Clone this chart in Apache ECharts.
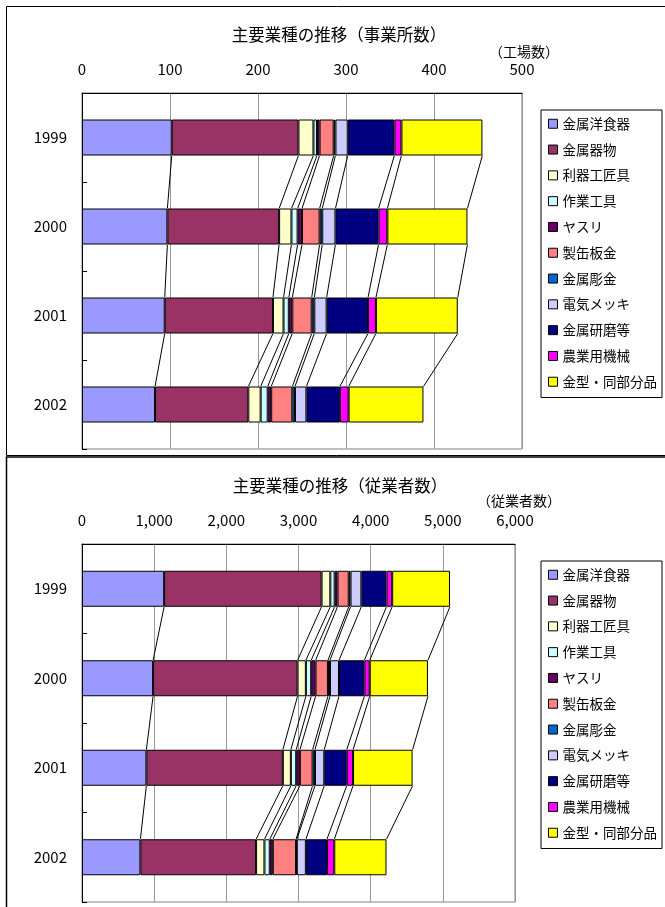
<!DOCTYPE html>
<html>
<head>
<meta charset="utf-8">
<script src="https://cdn.jsdelivr.net/npm/echarts/dist/echarts.min.js"></script>
<style>
html,body{margin:0;padding:0;background:#fff;}
#chart{width:665px;height:907px;}
</style>
</head>
<body>
<div id="chart"></div>
<script>
// ---- data ----
const categories = ['1999', '2000', '2001', '2002'];
const seriesNames = ['金属洋食器', '金属器物', '利器工匠具', '作業工具', 'ヤスリ', '製缶板金', '金属彫金', '電気メッキ', '金属研磨等', '農業用機械', '金型・同部分品'];
const seriesColors = ['#9999FF', '#993366', '#FFFFCC', '#CCFFFF', '#660066', '#FF8080', '#0066CC', '#CCCCFF', '#000080', '#FF00FF', '#FFFF00'];

// establishments (事業所数)
const estYoshokki = [102, 97, 94, 83];
const estKibutsu = [144, 127, 123, 106];
const estRiki = [17, 14, 12, 14];
const estSagyo = [4, 7, 6, 8];
const estYasuri = [3, 5, 4, 4];
const estSeikan = [16, 20, 22, 24];
const estChokin = [2, 3, 3, 3];
const estMekki = [14, 15, 14, 13];
const estKenma = [53, 49, 47, 38];
const estNogyo = [8, 10, 9, 10];
const estKanagata = [92, 91, 93, 85];

// employees (従業者数)
const empYoshokki = [1138, 985, 892, 809];
const empKibutsu = [2182, 2002, 1891, 1603];
const empRiki = [121, 115, 111, 116];
const empSagyo = [60, 74, 74, 74];
const empYasuri = [40, 61, 51, 42];
const empSeikan = [155, 171, 176, 322];
const empChokin = [25, 28, 33, 11];
const empMekki = [150, 125, 129, 125];
const empKenma = [348, 352, 311, 292];
const empNogyo = [79, 74, 88, 102];
const empKanagata = [801, 807, 825, 723];

const estTicks = [0, 500, 100];
const empTicks = [0, 6000, 1000];

const estSeries = [estYoshokki, estKibutsu, estRiki, estSagyo, estYasuri, estSeikan, estChokin, estMekki, estKenma, estNogyo, estKanagata];
const empSeries = [empYoshokki, empKibutsu, empRiki, empSagyo, empYasuri, empSeikan, empChokin, empMekki, empKenma, empNogyo, empKanagata];

// ---- build ----
const FONT = "'Noto Sans CJK JP', 'Noto Sans', sans-serif";
const BAR_W = 36;

function seriesLineData(list) {
  const out = [];
  const cum = categories.map(() => 0);
  const cums = list.map(arr => arr.map((v, i) => (cum[i] += v)));
  cums.forEach(c => {
    for (let i = 0; i < categories.length - 1; i++) out.push([c[i], c[i + 1], i]);
  });
  return out;
}

function lineRender(params, api) {
  const i = api.value(2);
  const p1 = api.coord([api.value(0), i]);
  const p2 = api.coord([api.value(1), i + 1]);
  return {
    type: 'line',
    shape: { x1: p1[0], y1: p1[1] + BAR_W / 2, x2: p2[0], y2: p2[1] - BAR_W / 2 },
    style: { stroke: '#000', lineWidth: 1 }
  };
}

function makeBars(list, idx, stack) {
  return list.map((arr, k) => ({
    type: 'bar', name: seriesNames[k], stack: stack,
    xAxisIndex: idx, yAxisIndex: idx, data: arr, barWidth: BAR_W,
    itemStyle: { color: seriesColors[k], borderColor: '#000', borderWidth: 1 },
    emphasis: { disabled: true }
  }));
}

function xAxisDef(idx, ticks) {
  return {
    gridIndex: idx, type: 'value', position: 'top',
    min: ticks[0], max: ticks[1], interval: ticks[2],
    axisLine: { show: true, lineStyle: { color: '#000', width: 1 } },
    axisTick: { show: false },
    axisLabel: { fontSize: 15, color: '#000', fontFamily: FONT, margin: 16,
      formatter: v => v.toLocaleString('en-US') },
    splitLine: { show: true, lineStyle: { color: '#999', width: 1 } }
  };
}

function yAxisDef(idx) {
  return {
    gridIndex: idx, type: 'category', data: categories, inverse: true,
    axisLine: { show: true, lineStyle: { color: '#000', width: 1 } },
    axisTick: { show: true, inside: true, length: 5, lineStyle: { color: '#000' } },
    axisLabel: { fontSize: 15, color: '#000', fontFamily: FONT, margin: 15 }
  };
}

function legendDef(top) {
  return {
    data: seriesNames, orient: 'vertical', left: 541, top: top,
    itemWidth: 9, itemHeight: 9, itemGap: 12.3, icon: 'rect',
    padding: [7, 5, 9, 7],
    borderColor: '#000', borderWidth: 1, selectedMode: false,
    itemStyle: { borderColor: '#000', borderWidth: 1 },
    textStyle: { fontSize: 13.5, color: '#000', fontFamily: FONT }
  };
}

function txt(x, y, text, size) {
  return { type: 'text', x: x, y: y, silent: true,
    style: { text: text, fontSize: size, fontFamily: FONT, fill: '#000', align: 'center', verticalAlign: 'middle' } };
}

const option = {
  animation: false,
  textStyle: { fontFamily: FONT },
  grid: [
    { left: 82, top: 93, width: 440, height: 356, show: true, borderColor: '#808080', borderWidth: 1, backgroundColor: 'transparent' },
    { left: 82, top: 544, width: 433, height: 358, show: true, borderColor: '#808080', borderWidth: 1, backgroundColor: 'transparent' }
  ],
  xAxis: [xAxisDef(0, estTicks), xAxisDef(1, empTicks)],
  yAxis: [yAxisDef(0), yAxisDef(1)],
  legend: [legendDef(110), legendDef(561)],
  graphic: [
    { type: 'rect', silent: true, z: -10, shape: { x: 6.5, y: 6.5, width: 700, height: 449 }, style: { fill: 'none', stroke: '#000', lineWidth: 1 } },
    { type: 'rect', silent: true, z: -10, shape: { x: 6.5, y: 457, width: 700, height: 500 }, style: { fill: 'none', stroke: '#000', lineWidth: 1.5 } },
    txt(339, 35, '主要業種の推移（事業所数）', 16.5),
    txt(524, 52, '（工場数）', 14),
    txt(340, 486, '主要業種の推移（従業者数）', 16.5),
    txt(519, 501, '（従業者数）', 14)
  ],
  series: [
    ...makeBars(estSeries, 0, 'est'),
    ...makeBars(empSeries, 1, 'emp'),
    { type: 'custom', name: 'estLines', xAxisIndex: 0, yAxisIndex: 0, silent: true, z: 3,
      data: seriesLineData(estSeries), encode: { x: [0, 1], y: 2 }, renderItem: lineRender },
    { type: 'custom', name: 'empLines', xAxisIndex: 1, yAxisIndex: 1, silent: true, z: 3,
      data: seriesLineData(empSeries), encode: { x: [0, 1], y: 2 }, renderItem: lineRender }
  ]
};

const chart = echarts.init(document.getElementById('chart'), null, { renderer: 'canvas' });
chart.setOption(option);
</script>
</body>
</html>
